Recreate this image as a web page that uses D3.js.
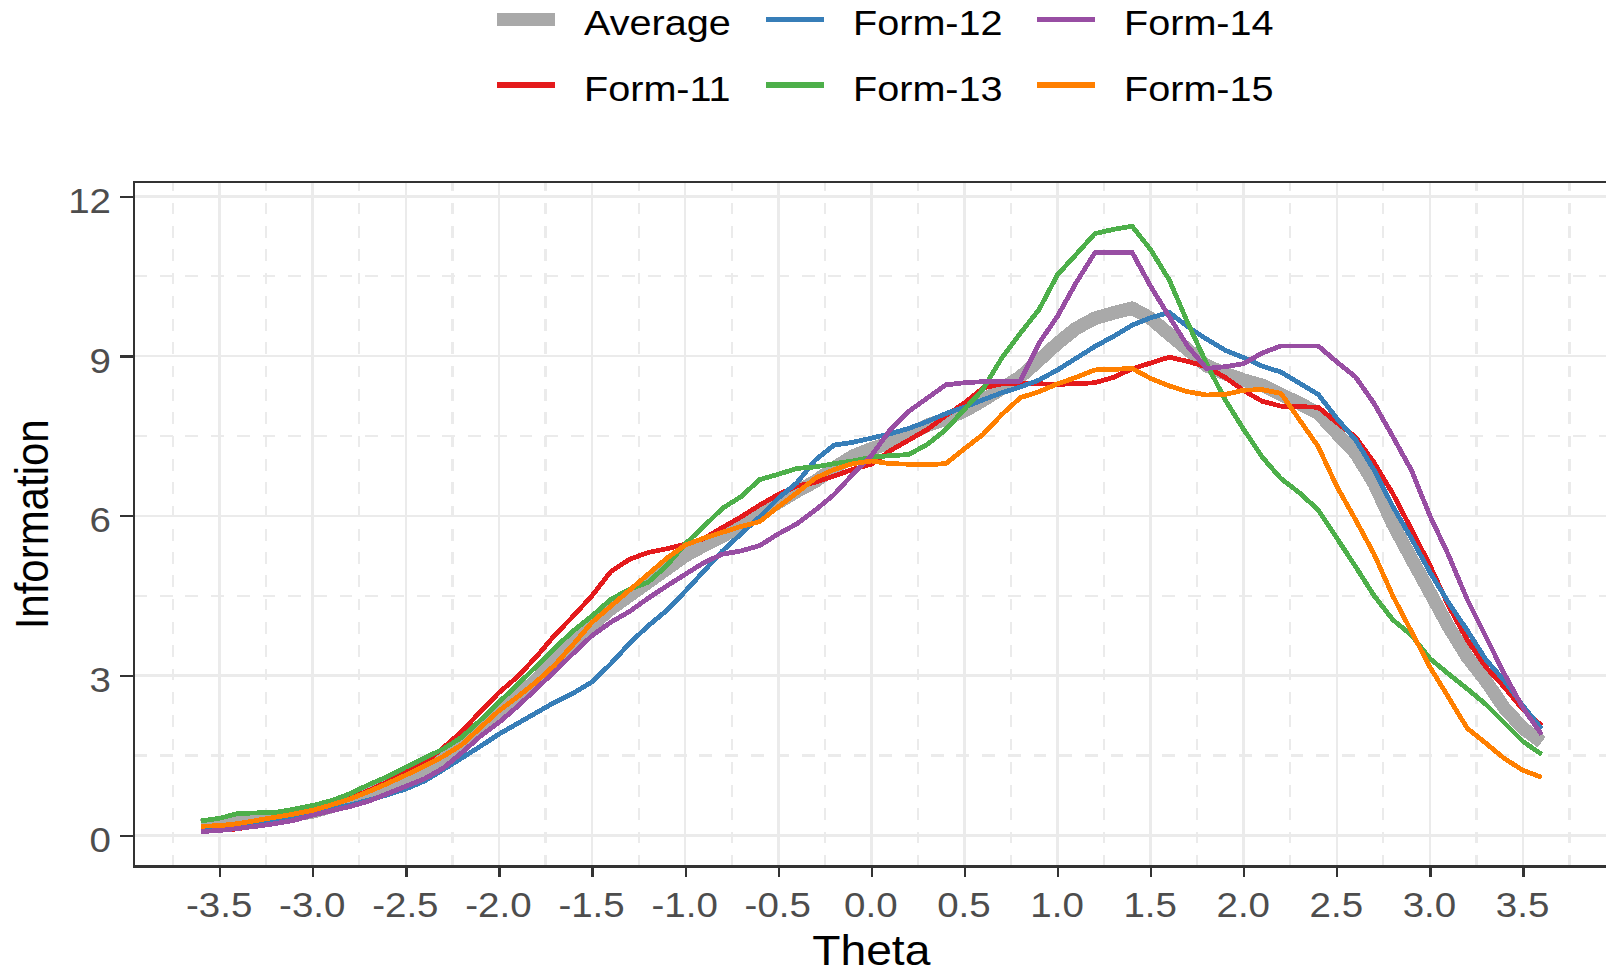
<!DOCTYPE html>
<html>
<head>
<meta charset="utf-8">
<script src="https://cdn.jsdelivr.net/npm/d3@7"></script>
<style>
  html, body { margin: 0; padding: 0; background: #fff; overflow: hidden; }
  svg text { font-family: "Liberation Sans", Arial, sans-serif; }
</style>
</head>
<body>
<svg id="chart" width="1606" height="975"></svg>
<script>
// Theta grid (ability scale) shared by every information curve
const theta = [-3.6,-3.5,-3.4,-3.3,-3.2,-3.1,-3.0,-2.9,-2.8,-2.7,-2.6,-2.5,-2.4,-2.3,-2.2,-2.1,-2.0,
  -1.9,-1.8,-1.7,-1.6,-1.5,-1.4,-1.3,-1.2,-1.1,-1.0,-0.9,-0.8,-0.7,-0.6,-0.5,-0.4,-0.3,-0.2,-0.1,
  0.0,0.1,0.2,0.3,0.4,0.5,0.6,0.7,0.8,0.9,1.0,1.1,1.2,1.3,1.4,1.5,1.6,1.7,1.8,1.9,2.0,
  2.1,2.2,2.3,2.4,2.5,2.6,2.7,2.8,2.9,3.0,3.1,3.2,3.3,3.4,3.5,3.6];

// Test information per form
const average = [0.18,0.22,0.28,0.30,0.33,0.38,0.44,0.54,0.66,0.79,0.93,1.08,1.23,1.44,1.68,1.98,2.30,
  2.60,2.92,3.28,3.63,3.95,4.25,4.50,4.75,5.00,5.25,5.44,5.62,5.80,6.04,6.25,6.46,6.65,6.90,7.12,
  7.26,7.37,7.53,7.70,7.82,7.97,8.17,8.39,8.61,8.92,9.24,9.52,9.71,9.81,9.90,9.71,9.41,9.12,8.82,8.67,8.55,
  8.45,8.28,8.11,7.93,7.55,7.18,6.61,5.85,5.20,4.56,3.92,3.35,2.90,2.39,2.01,1.75];

const form11 = [0.10,0.10,0.12,0.20,0.28,0.36,0.45,0.56,0.69,0.84,1.00,1.18,1.36,1.64,1.95,2.32,2.68,
  2.98,3.35,3.76,4.12,4.50,4.95,5.18,5.31,5.38,5.47,5.57,5.78,5.98,6.20,6.40,6.56,6.63,6.75,6.87,
  6.97,7.22,7.42,7.62,7.88,8.12,8.40,8.48,8.49,8.48,8.47,8.48,8.50,8.60,8.76,8.87,8.98,8.90,8.80,8.60,8.35,
  8.15,8.06,8.05,8.04,7.75,7.48,7.00,6.42,5.75,5.07,4.31,3.67,3.16,2.78,2.36,2.06];

const form12 = [0.15,0.17,0.20,0.25,0.30,0.35,0.42,0.49,0.57,0.66,0.76,0.87,1.02,1.23,1.45,1.67,1.90,
  2.10,2.30,2.50,2.67,2.88,3.22,3.60,3.93,4.22,4.58,4.96,5.34,5.66,5.98,6.33,6.62,7.05,7.33,7.38,
  7.46,7.54,7.64,7.77,7.92,8.04,8.18,8.31,8.42,8.55,8.74,8.96,9.18,9.37,9.58,9.72,9.82,9.55,9.32,9.11,8.97,
  8.81,8.70,8.49,8.28,7.83,7.43,6.86,6.18,5.58,4.94,4.37,3.85,3.30,2.90,2.43,2.00];

const form13 = [0.27,0.32,0.41,0.42,0.43,0.49,0.56,0.65,0.78,0.95,1.10,1.28,1.45,1.62,1.84,2.16,2.50,
  2.83,3.17,3.52,3.84,4.12,4.43,4.62,4.75,5.06,5.47,5.80,6.14,6.36,6.68,6.78,6.89,6.92,6.98,7.03,
  7.10,7.13,7.15,7.34,7.62,8.00,8.38,8.96,9.43,9.87,10.53,10.91,11.30,11.38,11.44,11.00,10.43,9.62,8.86,8.18,7.62,
  7.10,6.70,6.43,6.11,5.58,5.05,4.50,4.05,3.76,3.32,3.03,2.75,2.46,2.11,1.76,1.52];

const form14 = [0.07,0.09,0.13,0.17,0.22,0.28,0.38,0.46,0.54,0.64,0.78,0.92,1.06,1.26,1.55,1.86,2.12,
  2.42,2.75,3.08,3.42,3.75,4.00,4.20,4.45,4.68,4.90,5.12,5.28,5.34,5.44,5.66,5.85,6.11,6.40,6.78,
  7.13,7.61,7.96,8.21,8.46,8.50,8.52,8.53,8.53,9.24,9.75,10.38,10.94,10.95,10.95,10.31,9.74,9.18,8.77,8.80,8.86,
  9.06,9.19,9.19,9.19,8.89,8.61,8.11,7.49,6.86,6.00,5.26,4.43,3.73,3.03,2.39,1.89];

const form15 = [0.17,0.18,0.22,0.28,0.34,0.40,0.47,0.57,0.68,0.82,0.97,1.13,1.30,1.48,1.70,2.02,2.34,
  2.60,2.88,3.20,3.59,4.00,4.30,4.60,4.90,5.20,5.45,5.58,5.69,5.80,5.89,6.17,6.43,6.71,6.87,6.98,
  7.03,6.98,6.97,6.96,6.98,7.26,7.53,7.90,8.22,8.33,8.48,8.60,8.74,8.75,8.77,8.58,8.44,8.33,8.27,8.28,8.36,
  8.37,8.30,7.80,7.30,6.55,5.93,5.28,4.50,3.83,3.16,2.59,2.01,1.73,1.44,1.22,1.09];

const seriesNames  = ["Average", "Form-11", "Form-12", "Form-13", "Form-14", "Form-15"];
const seriesValues = [average, form11, form12, form13, form14, form15];
const seriesColors = ["#A9A9A9", "#E41A1C", "#377EB8", "#4DAF4A", "#984EA3", "#FF7F00"];
const seriesWidths = [13.5, 4.8, 4.8, 4.8, 4.8, 4.8];

const xMajorTicks = [-3.5,-3.0,-2.5,-2.0,-1.5,-1.0,-0.5,0.0,0.5,1.0,1.5,2.0,2.5,3.0,3.5];
const xMinorTicks = [-3.75,-3.25,-2.75,-2.25,-1.75,-1.25,-0.75,-0.25,0.25,0.75,1.25,1.75,2.25,2.75,3.25,3.75];
const yMajorTicks = [0, 3, 6, 9, 12];
const yMinorTicks = [1.5, 4.5, 7.5, 10.5];

const xTitle = "Theta";
const yTitle = "Information";

// ---- layout ----
const svg = d3.select("#chart");
const panel = { left: 134, top: 182, right: 1608.7, bottom: 866.7 };
const stretch = "scale(1.1,1)";

const x = d3.scaleLinear().domain([-3.96, 3.96]).range([panel.left, panel.right]);
const y = d3.scaleLinear().domain([-0.59, 12.27]).range([panel.bottom, panel.top]);

// ---- grid ----
const grid = svg.append("g").attr("shape-rendering", "crispEdges");

grid.selectAll("line.xminor").data(xMinorTicks).join("line")
  .attr("x1", d => x(d)).attr("x2", d => x(d))
  .attr("y1", panel.bottom).attr("y2", panel.top)
  .attr("stroke", "#EBEBEB").attr("stroke-width", 2.2)
  .attr("stroke-dasharray", "11.65 11.65");

grid.selectAll("line.yminor").data(yMinorTicks).join("line")
  .attr("x1", panel.left).attr("x2", panel.right)
  .attr("y1", d => y(d)).attr("y2", d => y(d))
  .attr("stroke", "#EBEBEB").attr("stroke-width", 2.2)
  .attr("stroke-dasharray", "12.85 12.85");

grid.selectAll("line.xmajor").data(xMajorTicks).join("line")
  .attr("x1", d => x(d)).attr("x2", d => x(d))
  .attr("y1", panel.bottom).attr("y2", panel.top)
  .attr("stroke", "#EBEBEB").attr("stroke-width", 2.6);

grid.selectAll("line.ymajor").data(yMajorTicks).join("line")
  .attr("x1", panel.left).attr("x2", panel.right)
  .attr("y1", d => y(d)).attr("y2", d => y(d))
  .attr("stroke", "#EBEBEB").attr("stroke-width", 2.6);

// ---- curves ----
const line = d3.line()
  .x((d, i) => x(theta[i]))
  .y(d => y(d));

svg.append("g").selectAll("path").data(seriesValues).join("path")
  .attr("d", d => line(d))
  .attr("fill", "none")
  .attr("stroke", (d, i) => seriesColors[i])
  .attr("stroke-width", (d, i) => seriesWidths[i])
  .attr("stroke-linejoin", "round")
  .attr("shape-rendering", "crispEdges");

// ---- panel border ----
svg.append("rect")
  .attr("x", panel.left).attr("y", panel.top)
  .attr("width", panel.right - panel.left).attr("height", panel.bottom - panel.top)
  .attr("fill", "none").attr("stroke", "#333333").attr("stroke-width", 2.6)
  .attr("shape-rendering", "crispEdges");

// ---- axes ----
const yAxis = svg.append("g")
  .attr("transform", `translate(${panel.left},0)`)
  .call(d3.axisLeft(y).tickValues(yMajorTicks).tickSize(14).tickFormat(d => String(d)));
yAxis.select(".domain").remove();
yAxis.selectAll(".tick line").attr("stroke", "#333333").attr("stroke-width", 2.3)
  .attr("shape-rendering", "crispEdges");
yAxis.selectAll(".tick text")
  .attr("x", null).attr("dy", null)
  .attr("transform", `translate(-23,16) ${stretch}`)
  .attr("text-anchor", "end")
  .attr("fill", "#4D4D4D")
  .style("font-size", "35px");

const xAxis = svg.append("g")
  .attr("transform", `translate(0,${panel.bottom})`)
  .call(d3.axisBottom(x).tickValues(xMajorTicks).tickSize(10).tickFormat(d => d.toFixed(1)));
xAxis.select(".domain").remove();
xAxis.selectAll(".tick line").attr("stroke", "#333333").attr("stroke-width", 2.3)
  .attr("shape-rendering", "crispEdges");
xAxis.selectAll(".tick text")
  .attr("y", null).attr("dy", null)
  .attr("transform", `translate(-1,50.5) ${stretch}`)
  .attr("text-anchor", "middle")
  .attr("fill", "#4D4D4D")
  .style("font-size", "35px");

// ---- axis titles ----
svg.append("text")
  .attr("transform", `translate(${(panel.left + panel.right) / 2},965) ${stretch}`)
  .attr("text-anchor", "middle")
  .style("font-size", "42px")
  .attr("fill", "#000")
  .text(xTitle);

svg.append("text")
  .attr("transform", `translate(48,${(panel.top + panel.bottom) / 2}) ${stretch} rotate(-90)`)
  .attr("text-anchor", "middle")
  .style("font-size", "42px")
  .attr("fill", "#000")
  .text(yTitle);

// ---- legend (two rows, filled column by column) ----
const legendKeyX  = [497, 766, 1037];
const legendTextX = [584, 853, 1124];
const legendRowY  = [19.5, 85];
const legend = svg.append("g");
seriesNames.forEach((name, i) => {
  const col = Math.floor(i / 2), row = i % 2;
  const cy = legendRowY[row];
  legend.append("line")
    .attr("x1", legendKeyX[col]).attr("x2", legendKeyX[col] + 58)
    .attr("y1", cy).attr("y2", cy)
    .attr("stroke", seriesColors[i])
    .attr("stroke-width", i === 0 ? 13.3 : 5.3)
    .attr("shape-rendering", "crispEdges");
  legend.append("text")
    .attr("transform", `translate(${legendTextX[col]},${cy + 15.8}) ${stretch}`)
    .style("font-size", "36px")
    .attr("fill", "#000")
    .text(name);
});
</script>
</body>
</html>
